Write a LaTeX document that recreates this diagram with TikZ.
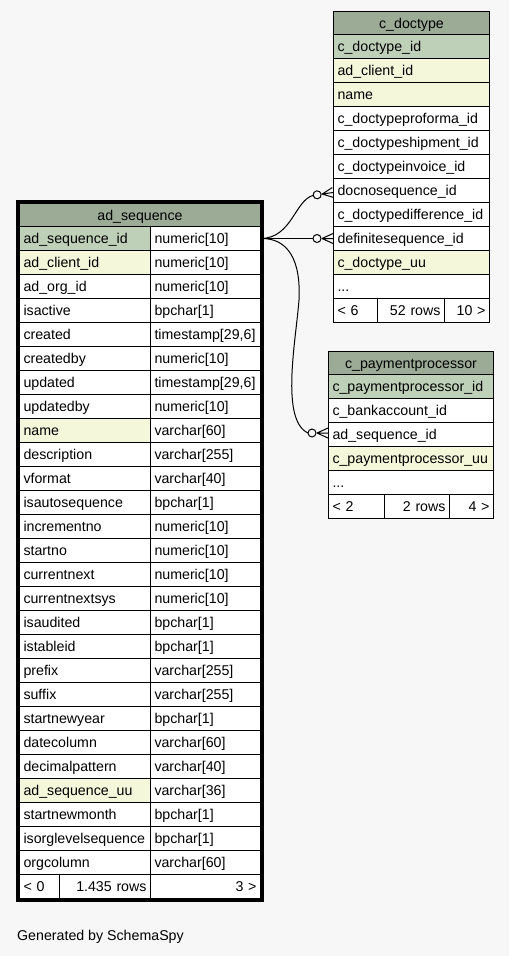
\documentclass[tikz,border=0pt]{standalone}
\usepackage{fontspec}
\setmainfont{Liberation Sans}
\usetikzlibrary{calc}
\definecolor{bgc}{HTML}{F7F7F7}
\definecolor{hdr}{HTML}{9BAB96}
\definecolor{pk}{HTML}{BED1B8}
\definecolor{ix}{HTML}{F4F7DA}
\colorlet{wh}{white}
\newcommand{\tabfont}{\fontsize{14.2}{16}\selectfont}
\newcommand{\tdots}{.{}.{}.}
\tikzset{
  cellbox/.style={draw=black, line width=1pt, inner xsep=4pt, inner ysep=0pt,
    text height=10pt, text depth=0pt, anchor=north west, font=\tabfont},
  edge/.style={draw=black, line width=1pt},
  tipcirc/.style={draw=black, fill=bgc, line width=1pt},
  focusborder/.style={draw=black, line width=3pt},
}
% name, x, y, width, height, fill, align, text
\newcommand{\tcell}[8]{\pgfmathsetmacro\tcw{#4-8}%
  \node[cellbox, fill=#6, align=#7, text width=\tcw pt, minimum height=#5pt] (#1) at (#2,#3) {#8};}
\begin{document}
\begin{tikzpicture}[x=1pt, y=-1pt]
\fill[bgc] (0,0) rectangle (509,956);
\useasboundingbox (0,0) rectangle (509,956);

% ---------------- ad_sequence ----------------
\tcell{as-h}{19}{203}{241}{23}{hdr}{center}{ad\_sequence}
\foreach \n/\t/\c [count=\i from 0] in {
  ad\_sequence\_id/numeric[10]/pk,
  ad\_client\_id/numeric[10]/ix,
  ad\_org\_id/numeric[10]/wh,
  isactive/bpchar[1]/wh,
  created/{timestamp[29,6]}/wh,
  createdby/numeric[10]/wh,
  updated/{timestamp[29,6]}/wh,
  updatedby/numeric[10]/wh,
  name/varchar[60]/ix,
  description/varchar[255]/wh,
  vformat/varchar[40]/wh,
  isautosequence/bpchar[1]/wh,
  incrementno/numeric[10]/wh,
  startno/numeric[10]/wh,
  currentnext/numeric[10]/wh,
  currentnextsys/numeric[10]/wh,
  isaudited/bpchar[1]/wh,
  istableid/bpchar[1]/wh,
  prefix/varchar[255]/wh,
  suffix/varchar[255]/wh,
  startnewyear/bpchar[1]/wh,
  datecolumn/varchar[60]/wh,
  decimalpattern/varchar[40]/wh,
  ad\_sequence\_uu/varchar[36]/ix,
  startnewmonth/bpchar[1]/wh,
  isorglevelsequence/bpchar[1]/wh,
  orgcolumn/varchar[60]/wh}{
  \pgfmathsetmacro\yy{226+24*\i}
  \tcell{as-n\i}{19}{\yy}{131}{24}{\c}{left}{\n}
  \tcell{as-t\i}{150}{\yy}{110}{24}{wh}{left}{\t}
}
\tcell{as-f1}{19}{874}{40}{24}{wh}{left}{< 0}
\tcell{as-f2}{59}{874}{91}{24}{wh}{right}{1.435 rows}
\tcell{as-f3}{150}{874}{110}{24}{wh}{right}{3 >}

% ---------------- c_doctype ----------------
\tcell{dt-h}{333}{11}{156}{23}{hdr}{center}{c\_doctype}
\foreach \n/\c [count=\i from 0] in {
  c\_doctype\_id/pk,
  ad\_client\_id/ix,
  name/ix,
  c\_doctypeproforma\_id/wh,
  c\_doctypeshipment\_id/wh,
  c\_doctypeinvoice\_id/wh,
  docnosequence\_id/wh,
  c\_doctypedifference\_id/wh,
  definitesequence\_id/wh,
  c\_doctype\_uu/ix,
  \tdots/wh}{
  \pgfmathsetmacro\yy{34+24*\i}
  \tcell{dt-n\i}{333}{\yy}{156}{24}{\c}{left}{\n}
}
\tcell{dt-f1}{333}{298}{44}{24}{wh}{left}{< 6}
\tcell{dt-f2}{377}{298}{67}{24}{wh}{right}{52 rows}
\tcell{dt-f3}{444}{298}{45}{24}{wh}{right}{10 >}

% ---------------- c_paymentprocessor ----------------
\tcell{pp-h}{328}{351}{165}{23}{hdr}{center}{c\_paymentprocessor}
\foreach \n/\c [count=\i from 0] in {
  c\_paymentprocessor\_id/pk,
  c\_bankaccount\_id/wh,
  ad\_sequence\_id/wh,
  c\_paymentprocessor\_uu/ix,
  \tdots/wh}{
  \pgfmathsetmacro\yy{374+24*\i}
  \tcell{pp-n\i}{328}{\yy}{165}{24}{\c}{left}{\n}
}
\tcell{pp-f1}{328}{494}{56}{24}{wh}{left}{< 2}
\tcell{pp-f2}{384}{494}{65}{24}{wh}{right}{2 rows}
\tcell{pp-f3}{449}{494}{44}{24}{wh}{right}{4 >}

% ---------------- connector ends (crow + open circle) ----------------
\coordinate (dnE) at ($(dt-n6.west)+(0,2)$);
\coordinate (dsE) at (dt-n8.west);
\coordinate (ppE) at ($(pp-n2.west)+(0,-1.5)$);

\begin{scope}[shift={(dnE)}, rotate=8.3]
  \draw[edge] (-11,0) -- (0,-5) (-11,0) -- (0,0) (-11,0) -- (0,5);
  \draw[tipcirc] (-16,0) circle[radius=4];
  \coordinate (dn-end) at (-20,0);
\end{scope}
\begin{scope}[shift={(dsE)}]
  \draw[edge] (-11,0) -- (0,-5) (-11,0) -- (0,0) (-11,0) -- (0,5);
  \draw[tipcirc] (-16,0) circle[radius=4];
  \coordinate (ds-end) at (-20,0);
\end{scope}
\begin{scope}[shift={(ppE)}]
  \draw[edge] (-11,0) -- (0,-5) (-11,0) -- (0,0) (-11,0) -- (0,5);
  \draw[tipcirc] (-16,0) circle[radius=4];
  \coordinate (pp-end) at (-20,0);
\end{scope}

% ---------------- connectors ----------------
\draw[edge] (as-t0.east) .. controls (292,238) and (295,200) .. (dn-end);
\draw[edge] (as-t0.east) -- (ds-end);
\draw[edge] (as-t0.east) .. controls (288,238) and (301,260) .. (299,300)
                         .. controls (296,340) and (280,420) .. (pp-end);

% focus table border
\draw[focusborder] ($(as-h.north west)+(-1.5,-1.5)$) rectangle ($(as-f3.south east)+(1.5,1.5)$);

\node[anchor=base west, inner sep=0pt, font=\tabfont] (gen) at (17,940) {Generated by SchemaSpy};
\end{tikzpicture}
\end{document}
